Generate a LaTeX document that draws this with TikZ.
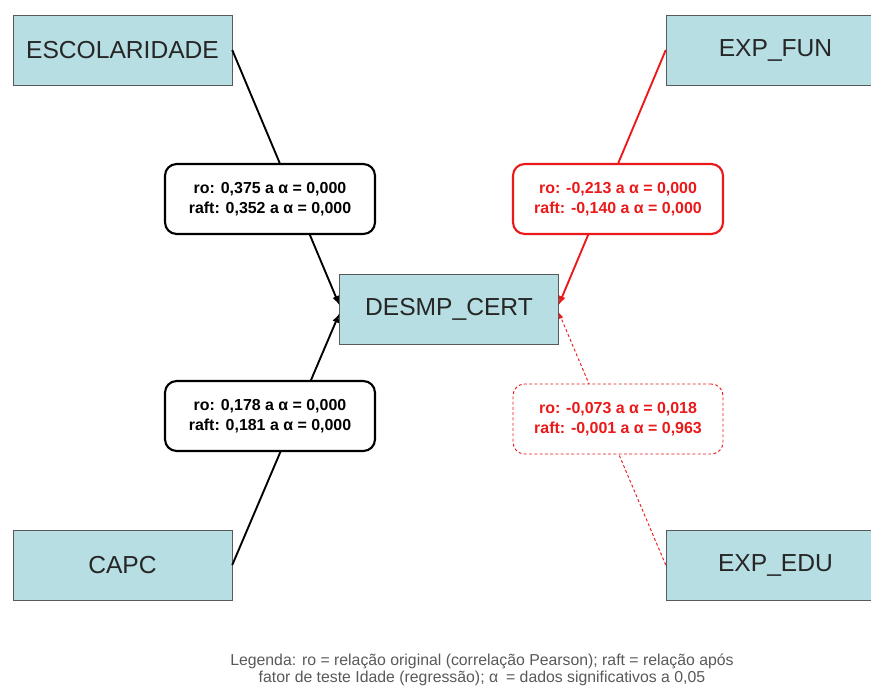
\documentclass[tikz,border=0pt]{standalone}
\usepackage{fontspec}
\setmainfont{Liberation Sans}
\definecolor{caixa}{RGB}{183,222,227}
\definecolor{verm}{RGB}{235,25,25}

\begin{document}
\begin{tikzpicture}[x=0.03cm, y=-0.03cm, >=latex, inner sep=2.5pt]% 1 unit = 1 px, y down
\useasboundingbox (0,0) rectangle (871,697);
\tikzstyle{var}=[draw=gray!70!black, fill=caixa, minimum width=6.57cm, minimum height=2.1cm, text=black!85, font=\fontsize{21}{24}\selectfont]
\tikzstyle{rel}=[draw, line width=1.8pt, rounded corners=0.35cm, fill=white, minimum width=6.3cm, minimum height=2.1cm, align=center, font=\bfseries\fontsize{13.6}{17}\selectfont]
\tikzstyle{lig}=[->, line width=1.6pt]

% variaveis
\node[var] (esc) at (122.5,50) {ESCOLARIDADE};
\node[var] (capc) at (122.5,565) {CAPC};
\node[var] (desmp) at (449,309) {DESMP\_CERT};
\node[var] (expfun) at (775.5,50) {EXP\_FUN};
\node[var] (expedu) at (775.5,565) {EXP\_EDU};

% ligacoes
\draw[lig] (esc.east) -- ([yshift=3.5pt]desmp.west);
\draw[lig] (capc.east) -- ([yshift=-4pt]desmp.west);
\draw[lig, verm] (expfun.west) -- ([yshift=3.5pt]desmp.east);
\draw[->, verm, line width=0.8pt, dash pattern=on 2.5pt off 2pt] (expedu.west) -- ([yshift=-3pt]desmp.east);

% relacoes
\node[rel] (r1) at (270,199) {ro: 0,375 a α = 0,000\\raft: 0,352 a α = 0,000};
\node[rel, draw=verm, text=verm] (r2) at (618,199) {ro: -0,213 a α = 0,000\\raft: -0,140 a α = 0,000};
\node[rel] (r3) at (270,416) {ro: 0,178 a α = 0,000\\raft: 0,181 a α = 0,000};
\node[rel, draw=verm, text=verm, line width=0.8pt, dash pattern=on 2.5pt off 2pt] (r4) at (618,419) {ro: -0,073 a α = 0,018\\raft: -0,001 a α = 0,963};

%\node at (449,640) {};
\node[align=center, text=black!65, font=\fontsize{13.5}{14.5}\selectfont] (leg) at (482,670) {Legenda: ro = relação original (correlação Pearson); raft = relação após\\fator de teste Idade (regressão); α\enspace= dados significativos a 0,05};

\end{tikzpicture}
\end{document}
